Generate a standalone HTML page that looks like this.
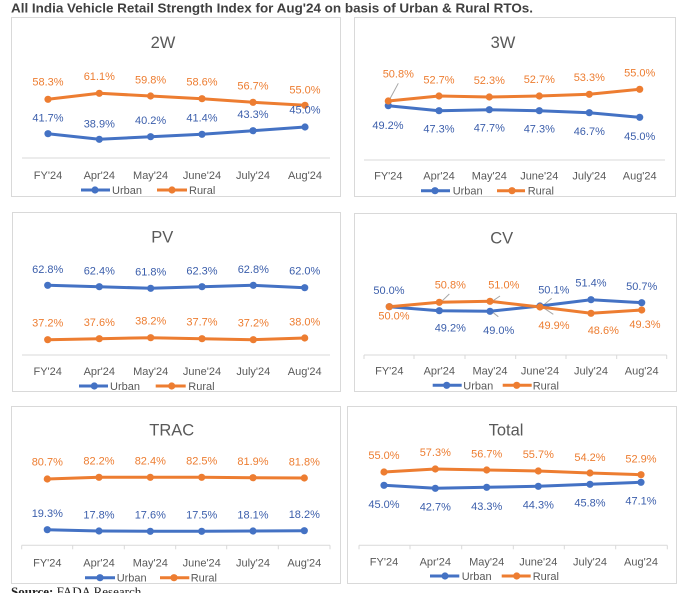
<!DOCTYPE html>
<html><head><meta charset="utf-8"><style>
html,body{margin:0;padding:0;background:#fff;}
svg{display:block;}
.t{font-family:"Liberation Sans",sans-serif;fill:#595959;}
.ttl{font-size:16.5px;text-anchor:middle;}
.cat{font-size:11px;text-anchor:middle;}
.lb{font-size:11px;text-anchor:middle;font-family:"Liberation Sans",sans-serif;}
.u{fill:#3B5EAB;}
.r{fill:#ED7D31;}
.lg{font-size:11px;font-family:"Liberation Sans",sans-serif;fill:#595959;}
.box{fill:#fff;stroke:#D9D9D9;stroke-width:1;}
.ax{stroke:#D9D9D9;stroke-width:1;fill:none;}
.ul{stroke:#4472C4;stroke-width:3;fill:none;stroke-linejoin:round;}
.rl{stroke:#ED7D31;stroke-width:3;fill:none;stroke-linejoin:round;}
.um{fill:#4472C4;}
.rm{fill:#ED7D31;}
.ld{stroke:#A6A6A6;stroke-width:1;}
</style></head><body>
<svg width="700" height="593" viewBox="0 0 700 593" xmlns="http://www.w3.org/2000/svg">
<text x="11" y="12.7" font-family="Liberation Sans, sans-serif" font-weight="bold" font-size="13" fill="#404040" textLength="522" lengthAdjust="spacingAndGlyphs">All India Vehicle Retail Strength Index for Aug'24 on basis of Urban &amp; Rural RTOs.</text>

<!-- Panel 1: 2W -->
<rect class="box" x="11.5" y="17.5" width="329" height="179"/>
<text class="t ttl" x="163" y="48">2W</text>
<line class="ax" x1="22" y1="158" x2="330" y2="158"/>
<polyline class="rl" points="48,99.3 99.3,93.3 150.6,96 202,98.7 253,102.3 305,105.3"/>
<polyline class="ul" points="48,133.7 99.3,139.3 150.6,136.7 202,134.3 253,130.7 305,127"/>
<g class="rm"><circle cx="48" cy="99.3" r="3.6"/><circle cx="99.3" cy="93.3" r="3.6"/><circle cx="150.6" cy="96" r="3.6"/><circle cx="202" cy="98.7" r="3.6"/><circle cx="253" cy="102.3" r="3.6"/><circle cx="305" cy="105.3" r="3.6"/></g>
<g class="um"><circle cx="48" cy="133.7" r="3.6"/><circle cx="99.3" cy="139.3" r="3.6"/><circle cx="150.6" cy="136.7" r="3.6"/><circle cx="202" cy="134.3" r="3.6"/><circle cx="253" cy="130.7" r="3.6"/><circle cx="305" cy="127" r="3.6"/></g>
<text class="lb r" x="48" y="85.7">58.3%</text><text class="lb r" x="99.3" y="80">61.1%</text><text class="lb r" x="150.6" y="83.3">59.8%</text><text class="lb r" x="202" y="85.7">58.6%</text><text class="lb r" x="253" y="89.7">56.7%</text><text class="lb r" x="305" y="93.3">55.0%</text>
<text class="lb u" x="48" y="121.3">41.7%</text><text class="lb u" x="99.3" y="127.3">38.9%</text><text class="lb u" x="150.6" y="124">40.2%</text><text class="lb u" x="202" y="121.3">41.4%</text><text class="lb u" x="253" y="118">43.3%</text><text class="lb u" x="305" y="113.3">45.0%</text>
<text class="t cat" x="48" y="179">FY'24</text><text class="t cat" x="99.3" y="179">Apr'24</text><text class="t cat" x="150.6" y="179">May'24</text><text class="t cat" x="202" y="179">June'24</text><text class="t cat" x="253" y="179">July'24</text><text class="t cat" x="305" y="179">Aug'24</text>
<line class="ul" x1="81" y1="190" x2="110" y2="190"/><circle class="um" cx="95" cy="190" r="3.6"/><text class="lg" x="112" y="194">Urban</text>
<line class="rl" x1="157" y1="190" x2="187" y2="190"/><circle class="rm" cx="172" cy="190" r="3.6"/><text class="lg" x="189" y="194">Rural</text>

<!-- Panel 2: 3W -->
<rect class="box" x="354.5" y="17.5" width="321" height="179"/>
<text class="t ttl" x="503" y="48">3W</text>
<line class="ax" x1="364" y1="160" x2="665" y2="160"/>
<line class="ld" x1="389.3" y1="100" x2="398.3" y2="83.3"/>
<polyline class="rl" points="388.3,101 439,96 489.3,97 539.3,96 589.3,94.3 639.7,89.3"/>
<polyline class="ul" points="388.3,105.7 439,110.7 489.3,109.7 539.3,110.7 589.3,112.7 639.7,117.3"/>
<g class="um"><circle cx="388.3" cy="105.7" r="3.6"/><circle cx="439" cy="110.7" r="3.6"/><circle cx="489.3" cy="109.7" r="3.6"/><circle cx="539.3" cy="110.7" r="3.6"/><circle cx="589.3" cy="112.7" r="3.6"/><circle cx="639.7" cy="117.3" r="3.6"/></g>
<g class="rm"><circle cx="388.3" cy="101" r="3.6"/><circle cx="439" cy="96" r="3.6"/><circle cx="489.3" cy="97" r="3.6"/><circle cx="539.3" cy="96" r="3.6"/><circle cx="589.3" cy="94.3" r="3.6"/><circle cx="639.7" cy="89.3" r="3.6"/></g>
<text class="lb r" x="398.3" y="77.3">50.8%</text><text class="lb r" x="439" y="83.3">52.7%</text><text class="lb r" x="489.3" y="84">52.3%</text><text class="lb r" x="539.3" y="83">52.7%</text><text class="lb r" x="589.3" y="81">53.3%</text><text class="lb r" x="639.7" y="76.3">55.0%</text>
<text class="lb u" x="388" y="129">49.2%</text><text class="lb u" x="439" y="132.7">47.3%</text><text class="lb u" x="489.3" y="131.7">47.7%</text><text class="lb u" x="539.3" y="132.7">47.3%</text><text class="lb u" x="589.3" y="135">46.7%</text><text class="lb u" x="639.7" y="140">45.0%</text>
<text class="t cat" x="388.3" y="179.7">FY'24</text><text class="t cat" x="439" y="179.7">Apr'24</text><text class="t cat" x="489.3" y="179.7">May'24</text><text class="t cat" x="539.3" y="179.7">June'24</text><text class="t cat" x="589.3" y="179.7">July'24</text><text class="t cat" x="639.7" y="179.7">Aug'24</text>
<line class="ul" x1="421" y1="190.7" x2="450" y2="190.7"/><circle class="um" cx="435" cy="190.7" r="3.6"/><text class="lg" x="452.7" y="194.7">Urban</text>
<line class="rl" x1="497" y1="190.7" x2="525" y2="190.7"/><circle class="rm" cx="512" cy="190.7" r="3.6"/><text class="lg" x="527.7" y="194.7">Rural</text>

<!-- Panel 3: PV -->
<rect class="box" x="12.5" y="212.5" width="328" height="179"/>
<text class="t ttl" x="162.3" y="242.7">PV</text>
<line class="ax" x1="22" y1="355" x2="330" y2="355"/>
<polyline class="ul" points="47.7,285.3 99.3,286.7 150.7,288.3 202,286.7 253.3,285.3 304.7,287.7"/>
<polyline class="rl" points="47.7,339.7 99.3,338.7 150.7,337.7 202,338.7 253.3,339.7 304.7,338"/>
<g class="um"><circle cx="47.7" cy="285.3" r="3.6"/><circle cx="99.3" cy="286.7" r="3.6"/><circle cx="150.7" cy="288.3" r="3.6"/><circle cx="202" cy="286.7" r="3.6"/><circle cx="253.3" cy="285.3" r="3.6"/><circle cx="304.7" cy="287.7" r="3.6"/></g>
<g class="rm"><circle cx="47.7" cy="339.7" r="3.6"/><circle cx="99.3" cy="338.7" r="3.6"/><circle cx="150.7" cy="337.7" r="3.6"/><circle cx="202" cy="338.7" r="3.6"/><circle cx="253.3" cy="339.7" r="3.6"/><circle cx="304.7" cy="338" r="3.6"/></g>
<text class="lb u" x="47.7" y="273">62.8%</text><text class="lb u" x="99.3" y="274.3">62.4%</text><text class="lb u" x="150.7" y="275.3">61.8%</text><text class="lb u" x="202" y="274.3">62.3%</text><text class="lb u" x="253.3" y="273">62.8%</text><text class="lb u" x="304.7" y="274.3">62.0%</text>
<text class="lb r" x="47.7" y="326.7">37.2%</text><text class="lb r" x="99.3" y="326">37.6%</text><text class="lb r" x="150.7" y="324.7">38.2%</text><text class="lb r" x="202" y="325.7">37.7%</text><text class="lb r" x="253.3" y="326.7">37.2%</text><text class="lb r" x="304.7" y="325.3">38.0%</text>
<text class="t cat" x="47.7" y="375">FY'24</text><text class="t cat" x="99.3" y="375">Apr'24</text><text class="t cat" x="150.7" y="375">May'24</text><text class="t cat" x="202" y="375">June'24</text><text class="t cat" x="253.3" y="375">July'24</text><text class="t cat" x="304.7" y="375">Aug'24</text>
<line class="ul" x1="79" y1="386" x2="108" y2="386"/><circle class="um" cx="94.3" cy="386" r="3.6"/><text class="lg" x="110" y="390">Urban</text>
<line class="rl" x1="155.7" y1="386" x2="185.7" y2="386"/><circle class="rm" cx="171.7" cy="386" r="3.6"/><text class="lg" x="188.3" y="390">Rural</text>

<!-- Panel 4: CV -->
<rect class="box" x="354.5" y="213.5" width="322" height="178"/>
<text class="t ttl" x="501.7" y="243.7">CV</text>
<line class="ax" x1="364" y1="355" x2="666.7" y2="355"/>
<g class="ax"><line x1="364" y1="355" x2="364" y2="359"/><line x1="414" y1="355" x2="414" y2="359"/><line x1="465" y1="355" x2="465" y2="359"/><line x1="515.7" y1="355" x2="515.7" y2="359"/><line x1="566" y1="355" x2="566" y2="359"/><line x1="616.7" y1="355" x2="616.7" y2="359"/><line x1="666.7" y1="355" x2="666.7" y2="359"/></g>
<line class="ld" x1="440.7" y1="302.3" x2="449.3" y2="294"/>
<line class="ld" x1="490.7" y1="302.3" x2="500" y2="296"/>
<line class="ld" x1="492.7" y1="312.3" x2="498.3" y2="316.7"/>
<line class="ld" x1="542.7" y1="305.7" x2="551.7" y2="298.3"/>
<line class="ld" x1="542.7" y1="307.3" x2="553.3" y2="314.3"/>
<polyline class="ul" points="389.3,306.7 439.3,310.7 490,311.3 540,306 591,299.7 641.7,302.7"/>
<polyline class="rl" points="389.3,306.7 439.3,302.3 490,301.3 540,307 591,313.3 641.7,310"/>
<g class="um"><circle cx="389.3" cy="306.7" r="3.6"/><circle cx="439.3" cy="310.7" r="3.6"/><circle cx="490" cy="311.3" r="3.6"/><circle cx="540" cy="306" r="3.6"/><circle cx="591" cy="299.7" r="3.6"/><circle cx="641.7" cy="302.7" r="3.6"/></g>
<g class="rm"><circle cx="389.3" cy="306.7" r="3.6"/><circle cx="439.3" cy="302.3" r="3.6"/><circle cx="490" cy="301.3" r="3.6"/><circle cx="540" cy="307" r="3.6"/><circle cx="591" cy="313.3" r="3.6"/><circle cx="641.7" cy="310" r="3.6"/></g>
<text class="lb u" x="389" y="294">50.0%</text><text class="lb u" x="450.3" y="331.3">49.2%</text><text class="lb u" x="498.7" y="334">49.0%</text><text class="lb u" x="553.8" y="293.3">50.1%</text><text class="lb u" x="591" y="286.7">51.4%</text><text class="lb u" x="641.7" y="290">50.7%</text>
<text class="lb r" x="394" y="319.7">50.0%</text><text class="lb r" x="450.3" y="288.7">50.8%</text><text class="lb r" x="503.8" y="288.7">51.0%</text><text class="lb r" x="554" y="329">49.9%</text><text class="lb r" x="603.3" y="334">48.6%</text><text class="lb r" x="645" y="328">49.3%</text>
<text class="t cat" x="389.3" y="374.7">FY'24</text><text class="t cat" x="439.3" y="374.7">Apr'24</text><text class="t cat" x="490" y="374.7">May'24</text><text class="t cat" x="540" y="374.7">June'24</text><text class="t cat" x="591" y="374.7">July'24</text><text class="t cat" x="641.7" y="374.7">Aug'24</text>
<line class="ul" x1="432.7" y1="385.3" x2="461.7" y2="385.3"/><circle class="um" cx="446.7" cy="385.3" r="3.6"/><text class="lg" x="463.3" y="389.3">Urban</text>
<line class="rl" x1="502.7" y1="385.3" x2="531.7" y2="385.3"/><circle class="rm" cx="516.7" cy="385.3" r="3.6"/><text class="lg" x="532.7" y="389.3">Rural</text>

<!-- Panel 5: TRAC -->
<rect class="box" x="11.5" y="406.5" width="329" height="177"/>
<text class="t ttl" x="171.7" y="435.3">TRAC</text>
<line class="ax" x1="21.7" y1="545.3" x2="330" y2="545.3"/>
<g class="ax"><line x1="21.7" y1="545.3" x2="21.7" y2="549.3"/><line x1="72.7" y1="545.3" x2="72.7" y2="549.3"/><line x1="124.3" y1="545.3" x2="124.3" y2="549.3"/><line x1="175.7" y1="545.3" x2="175.7" y2="549.3"/><line x1="226.7" y1="545.3" x2="226.7" y2="549.3"/><line x1="278.3" y1="545.3" x2="278.3" y2="549.3"/><line x1="330" y1="545.3" x2="330" y2="549.3"/></g>
<polyline class="rl" points="47.3,479 99,477.3 150.3,477.3 201.7,477.3 253,477.7 304.3,478"/>
<polyline class="ul" points="47.3,529.7 99,531 150.3,531.3 201.7,531.3 253,531 304.3,530.7"/>
<g class="rm"><circle cx="47.3" cy="479" r="3.6"/><circle cx="99" cy="477.3" r="3.6"/><circle cx="150.3" cy="477.3" r="3.6"/><circle cx="201.7" cy="477.3" r="3.6"/><circle cx="253" cy="477.7" r="3.6"/><circle cx="304.3" cy="478" r="3.6"/></g>
<g class="um"><circle cx="47.3" cy="529.7" r="3.6"/><circle cx="99" cy="531" r="3.6"/><circle cx="150.3" cy="531.3" r="3.6"/><circle cx="201.7" cy="531.3" r="3.6"/><circle cx="253" cy="531" r="3.6"/><circle cx="304.3" cy="530.7" r="3.6"/></g>
<text class="lb r" x="47.3" y="465.3">80.7%</text><text class="lb r" x="99" y="464.7">82.2%</text><text class="lb r" x="150.3" y="464.3">82.4%</text><text class="lb r" x="201.7" y="464.3">82.5%</text><text class="lb r" x="253" y="465">81.9%</text><text class="lb r" x="304.3" y="465.3">81.8%</text>
<text class="lb u" x="47.3" y="517">19.3%</text><text class="lb u" x="99" y="518.3">17.8%</text><text class="lb u" x="150.3" y="518.7">17.6%</text><text class="lb u" x="201.7" y="518.7">17.5%</text><text class="lb u" x="253" y="518.3">18.1%</text><text class="lb u" x="304.3" y="518">18.2%</text>
<text class="t cat" x="47.3" y="566.7">FY'24</text><text class="t cat" x="99" y="566.7">Apr'24</text><text class="t cat" x="150.3" y="566.7">May'24</text><text class="t cat" x="201.7" y="566.7">June'24</text><text class="t cat" x="253" y="566.7">July'24</text><text class="t cat" x="304.3" y="566.7">Aug'24</text>
<line class="ul" x1="85" y1="577.7" x2="115" y2="577.7"/><circle class="um" cx="100" cy="577.7" r="3.6"/><text class="lg" x="116.7" y="581.7">Urban</text>
<line class="rl" x1="160" y1="577.7" x2="189.3" y2="577.7"/><circle class="rm" cx="174" cy="577.7" r="3.6"/><text class="lg" x="190.7" y="581.7">Rural</text>

<!-- Panel 6: Total -->
<rect class="box" x="347.5" y="406.5" width="329" height="177"/>
<text class="t ttl" x="506" y="435.3">Total</text>
<line class="ax" x1="359" y1="545.3" x2="667.3" y2="545.3"/>
<g class="ax"><line x1="359" y1="545.3" x2="359" y2="549.3"/><line x1="410" y1="545.3" x2="410" y2="549.3"/><line x1="461.7" y1="545.3" x2="461.7" y2="549.3"/><line x1="513.3" y1="545.3" x2="513.3" y2="549.3"/><line x1="564.3" y1="545.3" x2="564.3" y2="549.3"/><line x1="615.7" y1="545.3" x2="615.7" y2="549.3"/><line x1="667.3" y1="545.3" x2="667.3" y2="549.3"/></g>
<polyline class="rl" points="384,472 435.3,469 486.7,470 538.3,471 590,473 641,474.7"/>
<polyline class="ul" points="384,485.3 435.3,488.3 486.7,487.3 538.3,486.3 590,484.3 641,482.3"/>
<g class="rm"><circle cx="384" cy="472" r="3.6"/><circle cx="435.3" cy="469" r="3.6"/><circle cx="486.7" cy="470" r="3.6"/><circle cx="538.3" cy="471" r="3.6"/><circle cx="590" cy="473" r="3.6"/><circle cx="641" cy="474.7" r="3.6"/></g>
<g class="um"><circle cx="384" cy="485.3" r="3.6"/><circle cx="435.3" cy="488.3" r="3.6"/><circle cx="486.7" cy="487.3" r="3.6"/><circle cx="538.3" cy="486.3" r="3.6"/><circle cx="590" cy="484.3" r="3.6"/><circle cx="641" cy="482.3" r="3.6"/></g>
<text class="lb r" x="384" y="459">55.0%</text><text class="lb r" x="435.3" y="456">57.3%</text><text class="lb r" x="486.7" y="457.3">56.7%</text><text class="lb r" x="538.3" y="458">55.7%</text><text class="lb r" x="590" y="461">54.2%</text><text class="lb r" x="641" y="462.7">52.9%</text>
<text class="lb u" x="384" y="508">45.0%</text><text class="lb u" x="435.3" y="510.7">42.7%</text><text class="lb u" x="486.7" y="510">43.3%</text><text class="lb u" x="538.3" y="508.7">44.3%</text><text class="lb u" x="590" y="506.7">45.8%</text><text class="lb u" x="641" y="504.7">47.1%</text>
<text class="t cat" x="384" y="565.7">FY'24</text><text class="t cat" x="435.3" y="565.7">Apr'24</text><text class="t cat" x="486.7" y="565.7">May'24</text><text class="t cat" x="538.3" y="565.7">June'24</text><text class="t cat" x="590" y="565.7">July'24</text><text class="t cat" x="641" y="565.7">Aug'24</text>
<line class="ul" x1="430" y1="576" x2="459.3" y2="576"/><circle class="um" cx="445" cy="576" r="3.6"/><text class="lg" x="461.7" y="580">Urban</text>
<line class="rl" x1="501.7" y1="576" x2="530.7" y2="576"/><circle class="rm" cx="516.7" cy="576" r="3.6"/><text class="lg" x="532.7" y="580">Rural</text>

<text x="11" y="596" font-family="Liberation Serif, serif" font-size="13" fill="#222"><tspan font-weight="bold">Source:</tspan> FADA Research</text>
</svg>
</body></html>
